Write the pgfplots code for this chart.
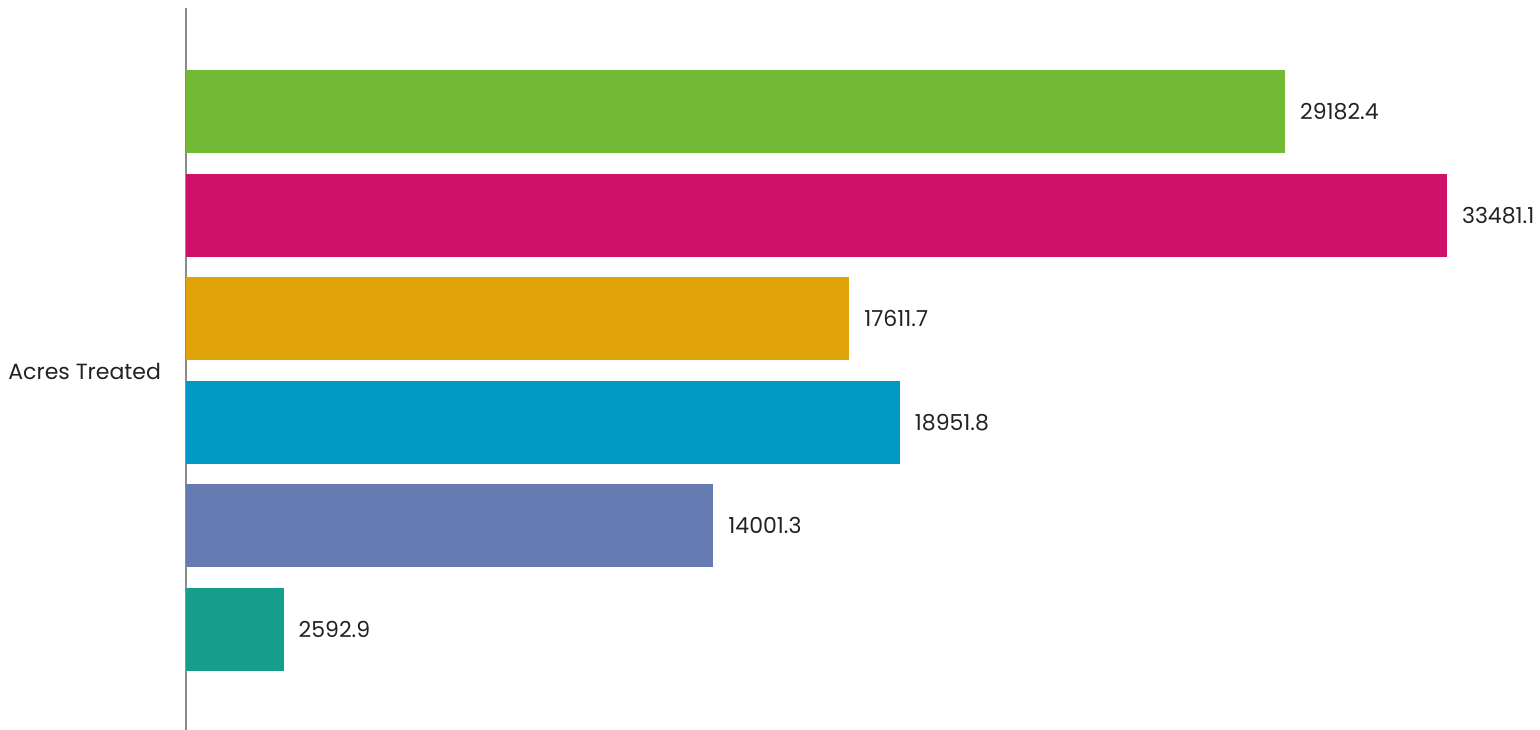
\documentclass[border=0pt]{standalone}
\usepackage{pgfplots}
\pgfplotsset{compat=1.18}
\usepackage{fontspec}
\setmainfont{Poppins}
\definecolor{cGreen}{HTML}{72B935}
\definecolor{cMag}{HTML}{D0116B}
\definecolor{cOrange}{HTML}{E0A408}
\definecolor{cBlue}{HTML}{009AC4}
\definecolor{cSlate}{HTML}{667BB2}
\definecolor{cTeal}{HTML}{169E8C}
\definecolor{txt}{HTML}{222222}
\begin{document}
\begin{tikzpicture}
\begin{axis}[
  scale only axis,
  width=677pt, height=361pt,
  xmin=0, xmax=35951,
  ymin=0.03, ymax=7.0,
  xbar, bar width=0.8, bar shift=0pt,
  axis x line=none,
  axis y line*=left,
  y axis line style={draw=gray!90, line width=0.8pt, -},
  ytick=\empty,
  clip=false,
  nodes near coords,
  nodes near coords style={font=\fontsize{11}{13}\selectfont, color=txt, anchor=west, xshift=4pt},
  point meta=explicit symbolic,
  every axis plot/.append style={draw=none},
]
\addplot[fill=cGreen] coordinates {(29182.4,6) [29182.4]};
\addplot[fill=cMag] coordinates {(33481.1,5) [33481.1]};
\addplot[fill=cOrange] coordinates {(17611.7,4) [17611.7]};
\addplot[fill=cBlue] coordinates {(18951.8,3) [18951.8]};
\addplot[fill=cSlate] coordinates {(14001.3,2) [14001.3]};
\addplot[fill=cTeal] coordinates {(2592.9,1) [2592.9]};
\end{axis}
\node[anchor=east, font=\fontsize{11}{13}\selectfont, color=txt] at ([xshift=-9pt,yshift=-1pt]current axis.west) {Acres Treated};
\pgfresetboundingbox
\path ([xshift=-93pt]current axis.south west) rectangle ([yshift=4pt]current axis.north east);
\end{tikzpicture}
\end{document}
